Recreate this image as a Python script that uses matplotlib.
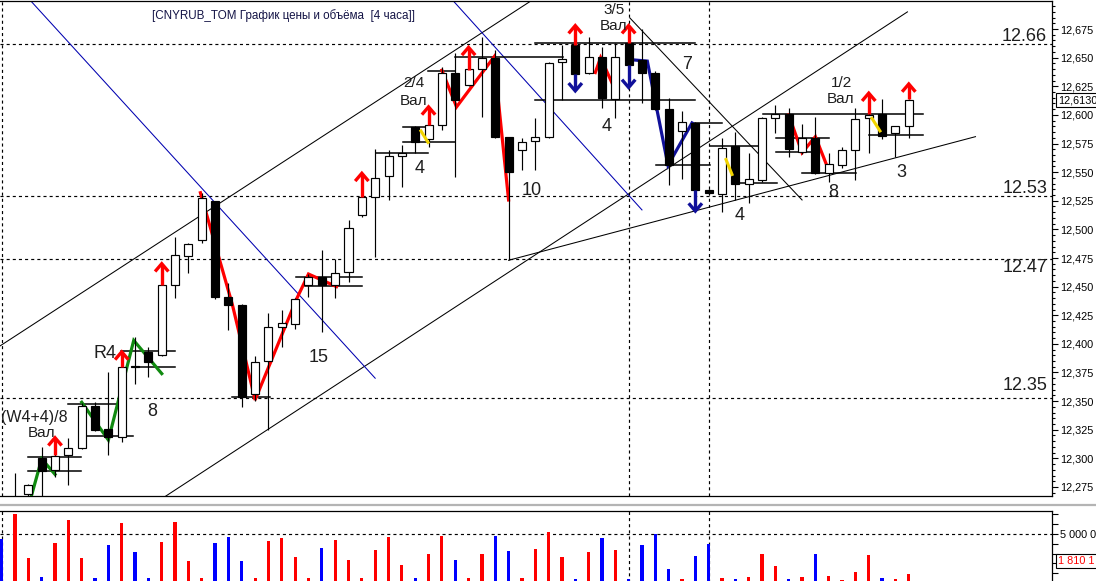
import matplotlib
matplotlib.use('Agg')
import matplotlib.pyplot as plt
import numpy as np
from matplotlib.lines import Line2D
from matplotlib.ticker import MultipleLocator, FuncFormatter, FixedLocator

plt.rcParams['font.family'] = ['Liberation Sans', 'DejaVu Sans']

# ---------------- data ----------------
opens = [12.258, 12.269, 12.300, 12.290, 12.303, 12.309, 12.346, 12.326, 12.319, 12.381,
         12.393, 12.390, 12.451, 12.477, 12.491, 12.525, 12.441, 12.434, 12.356, 12.385,
         12.415, 12.417, 12.451, 12.458, 12.451, 12.463, 12.513, 12.528, 12.547, 12.564,
         12.589, 12.579, 12.591, 12.637, 12.626, 12.640, 12.650, 12.581, 12.569, 12.577,
         12.581, 12.646, 12.661, 12.637, 12.651, 12.614, 12.663, 12.648, 12.637, 12.605,
         12.586, 12.593, 12.534, 12.531, 12.573, 12.540, 12.543, 12.597, 12.601, 12.568,
         12.580, 12.549, 12.556, 12.569, 12.597, 12.601, 12.584, 12.590]
highs = [12.287, 12.278, 12.310, 12.309, 12.318, 12.348, 12.349, 12.375, 12.381, 12.406,
         12.397, 12.452, 12.493, 12.488, 12.532, 12.525, 12.453, 12.435, 12.389, 12.427,
         12.430, 12.440, 12.461, 12.482, 12.474, 12.508, 12.534, 12.570, 12.569, 12.574,
         12.590, 12.592, 12.642, 12.654, 12.650, 12.668, 12.657, 12.581, 12.580, 12.597,
         12.646, 12.661, 12.662, 12.668, 12.659, 12.663, 12.664, 12.675, 12.638, 12.615,
         12.603, 12.594, 12.535, 12.580, 12.585, 12.567, 12.598, 12.609, 12.606, 12.592,
         12.598, 12.567, 12.572, 12.606, 12.617, 12.614, 12.590, 12.614]
lows = [12.255, 12.266, 12.266, 12.284, 12.277, 12.308, 12.324, 12.303, 12.314, 12.365,
        12.371, 12.389, 12.440, 12.462, 12.488, 12.439, 12.412, 12.345, 12.350, 12.325,
        12.397, 12.413, 12.441, 12.410, 12.440, 12.454, 12.511, 12.476, 12.526, 12.537,
        12.567, 12.572, 12.587, 12.546, 12.625, 12.598, 12.580, 12.473, 12.552, 12.552,
        12.580, 12.613, 12.635, 12.636, 12.606, 12.597, 12.643, 12.610, 12.604, 12.539,
        12.544, 12.530, 12.531, 12.515, 12.526, 12.523, 12.541, 12.584, 12.563, 12.566,
        12.548, 12.541, 12.554, 12.543, 12.567, 12.579, 12.563, 12.580]
closes = [12.264, 12.277, 12.289, 12.302, 12.309, 12.346, 12.325, 12.319, 12.380, 12.380,
          12.384, 12.451, 12.478, 12.487, 12.527, 12.441, 12.434, 12.354, 12.384, 12.415,
          12.418, 12.439, 12.458, 12.451, 12.462, 12.501, 12.528, 12.545, 12.564, 12.567,
          12.576, 12.591, 12.637, 12.613, 12.640, 12.650, 12.581, 12.550, 12.576, 12.581,
          12.645, 12.649, 12.636, 12.651, 12.615, 12.651, 12.644, 12.637, 12.605, 12.556,
          12.594, 12.534, 12.532, 12.571, 12.540, 12.544, 12.597, 12.601, 12.570, 12.580,
          12.549, 12.557, 12.569, 12.596, 12.600, 12.582, 12.590, 12.613]

# volume (millions), first value belongs to the bar before candle 0 (a falling bar)
volume_prev = 4.48
volumes = [7.05, 2.51, 0.61, 4.05, 6.41, 2.51, 0.51, 3.84, 6.09, 3.19,
           0.51, 4.15, 6.19, 2.22, 0.51, 4.05, 4.69, 2.22, 0.51, 4.27,
           4.59, 2.65, 0.51, 3.62, 4.37, 2.33, 0.51, 3.41, 4.69, 1.80,
           0.51, 2.98, 4.80, 2.33, 0.51, 2.98, 4.80, 3.30, 0.51, 3.51,
           5.18, 2.61, 0.44, 3.12, 4.64, 3.34, 0.37, 3.88, 4.97, 1.46,
           0.41, 2.72, 3.99, 0.52, 0.41, 0.62, 2.94, 1.74, 0.41, 0.62,
           3.01, 0.73, 0.34, 1.13, 2.84, 0.48, 0.41, 0.92]

levels = [12.662, 12.529, 12.474, 12.353]
level_labels = ['12.66', '12.53', '12.47', '12.35']
level_label_prices = [12.6689, 12.5361, 12.4663, 12.3632]

session_lines = [-1, 46, 52]

trend_black = [[(-1.2, 12.3976), (40.0, 12.7096)],
               [(11.3, 12.267), (66.9, 12.690)],
               [(46.1, 12.6846), (59.0, 12.5257)],
               [(37.0, 12.473), (72.0, 12.581)]]
trend_blue = [[(1.0, 12.7019), (27.0, 12.370)],
              [(32.9, 12.699), (47.0, 12.517)]]

range_lines = [(0.97, 4.95, 12.3009), (0.97, 4.95, 12.2892), (3.97, 7.65, 12.3475),
               (5.25, 8.85, 12.3195), (7.95, 11.99, 12.3938), (8.85, 11.99, 12.3798),
               (21.06, 26.01, 12.4584), (21.74, 26.01, 12.4506), (16.27, 19.12, 12.3536),
               (27.06, 30.96, 12.5664), (29.09, 30.96, 12.5897), (29.09, 32.98, 12.5760),
               (30.96, 32.98, 12.6383), (32.98, 41.08, 12.6508), (38.98, 50.97, 12.6625),
               (38.98, 50.97, 12.6130), (48.05, 52.1, 12.5562), (50.75, 53.0, 12.5929),
               (52.1, 55.7, 12.5728), (53.75, 57.1, 12.5405), (56.07, 68.07, 12.6005),
               (57.05, 61.02, 12.5801), (57.05, 60.1, 12.5673), (59.0, 63.04, 12.5490),
               (64.0, 68.07, 12.5824)]

zigzag_green = [[(1.2, 12.266), (2.0, 12.2995), (3.0, 12.286)],
                [(5.0, 12.349), (7.0, 12.316), (8.9, 12.403), (11.0, 12.374)]]
zigzag_red = [[(13.9, 12.532), (16.3, 12.434), (18.0, 12.351), (21.1, 12.439), (22.0, 12.461), (24.1, 12.450)],
              [(32.0, 12.639), (33.1, 12.607), (35.9, 12.6505), (37.0, 12.5257)],
              [(43.5, 12.637), (43.9, 12.650), (44.75, 12.628)],
              [(58.0, 12.600), (59.0, 12.567), (60.0, 12.581), (60.9, 12.5545)]]
zigzag_navy = [[(46.4, 12.648), (47.4, 12.647), (48.95, 12.556), (50.75, 12.593)]]
zigzag_yellow = [[(30.43, 12.586), (30.96, 12.576)],
                 [(53.3, 12.561), (53.75, 12.548)],
                 [(64.24, 12.597), (64.84, 12.586)]]

up_arrow_idx = [3, 8, 11, 26, 31, 34, 42, 46, 64, 67]
up_arrow_base = [12.303, 12.380, 12.451, 12.528, 12.591, 12.639, 12.661, 12.663, 12.601, 12.614]
up_arrow_tip = [12.318, 12.393, 12.470, 12.549, 12.607, 12.659, 12.678, 12.678, 12.619, 12.627]
down_arrow_idx = [42, 46, 51]
down_arrow_base = [12.636, 12.644, 12.534]
down_arrow_tip = [12.621, 12.624, 12.516]

big_labels = [('R4', 6.75, 12.3912), ('8', 10.27, 12.3405), ('15', 22.79, 12.3885),
              ('4', 30.36, 12.5536), ('10', 38.76, 12.5344), ('4', 44.38, 12.5903),
              ('7', 50.37, 12.6436), ('4', 54.35, 12.5117), ('8', 61.32, 12.5318),
              ('3', 66.42, 12.5501)]
small_labels = [('2/4', 29.91, 12.6278), ('Вал', 29.91, 12.6121),
                ('3/5', 44.9, 12.6916), ('Вал', 44.9, 12.6776),
                ('1/2', 61.92, 12.6278), ('Вал', 61.92, 12.6139),
                ('Вал', 2.02, 12.3222)]
wave_label = ('(W4+4)/8', -1.05, 12.3361)

title = '[CNYRUB_TOM График цены и объёма  [4 часа]]'
last_price_label = '12,6130'
vol_level = 5.0
vol_level_label = '5 000 0'
last_vol_label = '1 810 1'

# ---------------- figure ----------------
W, H = 1096, 581
fig = plt.figure(figsize=(W / 100, H / 100), dpi=100)
fig.patch.set_facecolor('white')

def fx(px):
    return px / W

def fy(py):
    return 1 - py / H

ax = fig.add_axes([0, fy(496), fx(1052), (496 - 1) / H])
axv = fig.add_axes([0, fy(583), fx(1052), (583 - 511) / H])

X0, DX = 15.0, 13.34
xlim = ((0 - X0) / DX, (1052 - X0) / DX)
for a in (ax, axv):
    a.set_xlim(*xlim)
    a.set_facecolor('white')
ax.set_ylim(12.2671, 12.6995)
axv.set_ylim(0, 7.35)

dash = (0, (2.6, 2.6))
# grid / level lines
for lv in levels:
    ax.axhline(lv, color='black', lw=0.85, ls=dash, zorder=1)
for s in session_lines:
    ax.axvline(s, color='black', lw=0.85, ls=dash, zorder=1)
    axv.axvline(s, color='black', lw=0.85, ls=dash, zorder=1)
axv.axhline(vol_level, color='black', lw=0.85, ls=dash, zorder=1)

# trend lines
for seg in trend_black:
    (x1, y1), (x2, y2) = seg
    ax.plot([x1, x2], [y1, y2], color='black', lw=0.75, zorder=2)
for seg in trend_blue:
    (x1, y1), (x2, y2) = seg
    ax.plot([x1, x2], [y1, y2], color='#0000b0', lw=0.75, zorder=2)

# range lines
for x1, x2, p in range_lines:
    ax.plot([x1, x2], [p, p], color='black', lw=1.1, zorder=2)

# zigzags
def draw_paths(paths, color, lw=2.3, z=2.5):
    for path in paths:
        xs = [p[0] for p in path]
        ys = [p[1] for p in path]
        ax.plot(xs, ys, color=color, lw=lw, zorder=z, solid_joinstyle='miter')

draw_paths(zigzag_green, '#108a10')
draw_paths(zigzag_red, '#ff0000')
draw_paths(zigzag_navy, '#10109a')
draw_paths(zigzag_yellow, '#f2d400', lw=2.2, z=5)

# candles
o = np.array(opens); h = np.array(highs); l = np.array(lows); c = np.array(closes)
idx = np.arange(len(o))
up = c >= o
ax.vlines(idx, l, h, color='black', lw=0.85, zorder=3)
bottoms = np.minimum(o, c)
heights = np.maximum(np.abs(c - o), 0.0007)
ax.bar(idx, heights, bottom=bottoms, width=0.6,
       color=np.where(up, 'white', 'black'), edgecolor='black', linewidth=0.85, zorder=4)

# arrows
def arrow(i, base, tip, color):
    d = np.sign(tip - base)
    hw, hh = 0.5, 0.0068
    ax.plot([i, i], [base, tip - d * 0.001], color=color, lw=2.4, zorder=6, solid_capstyle='butt')
    ax.plot([i - hw, i, i + hw], [tip - d * hh, tip, tip - d * hh], color=color, lw=2.4,
            zorder=6, solid_joinstyle='miter', solid_capstyle='butt')

for i, b, t in zip(up_arrow_idx, up_arrow_base, up_arrow_tip):
    arrow(i, b, t, '#ff0000')
for i, b, t in zip(down_arrow_idx, down_arrow_base, down_arrow_tip):
    arrow(i, b, t, '#10109a')

# labels
txt_color = '#1e1e1e'
for s, x, y in big_labels:
    ax.text(x, y, s, fontsize=13, color=txt_color, ha='center', va='center', zorder=7)
for s, x, y in small_labels:
    ax.text(x, y, s, fontsize=11, color=txt_color, ha='center', va='center', zorder=7)
ax.text(wave_label[1], wave_label[2], wave_label[0], fontsize=11.5, color=txt_color,
        ha='left', va='center', zorder=7)
xr = (1047 - X0) / DX
for s, p in zip(level_labels, level_label_prices):
    ax.text(xr, p, s, fontsize=13, color=txt_color, ha='right', va='center', zorder=7)

fig.text(fx(284), fy(16), title, ha='center', va='center', fontsize=8.35, color='#141446')

# price axis
ax.yaxis.tick_right()
ax.yaxis.set_major_locator(MultipleLocator(0.025))
ax.yaxis.set_minor_locator(MultipleLocator(0.005))
ax.yaxis.set_major_formatter(FuncFormatter(lambda v, pos: f'{v:.3f}'.replace('.', ',')))
ax.tick_params(axis='y', which='major', direction='out', length=4.3, width=0.8, pad=1.5,
               labelsize=7.8, colors='black')
ax.tick_params(axis='y', which='minor', direction='out', length=2.2, width=0.8)
ax.tick_params(axis='x', which='both', bottom=False, labelbottom=False)
ax.spines['left'].set_visible(False)
for sp in ('top', 'right', 'bottom'):
    ax.spines[sp].set_linewidth(0.9)
ax.text(1.0057, 12.613, last_price_label, transform=ax.get_yaxis_transform(), fontsize=7.8,
        ha='left', va='center', zorder=8,
        bbox=dict(boxstyle='square,pad=0.15', fc='white', ec='black', lw=0.8), clip_on=False)

# volume panel
vol_all = np.array([volume_prev] + volumes)
vidx = np.arange(-1, len(volumes))
vol_up = np.concatenate([[False], up])
axv.bar(vidx, vol_all, width=0.24, color=np.where(vol_up, '#ff0000', '#0000ff'), zorder=3)
axv.yaxis.tick_right()
axv.yaxis.set_major_locator(FixedLocator([1, 2, 3, 4, 5, 6, 7]))
axv.yaxis.set_major_formatter(FuncFormatter(lambda v, pos: vol_level_label if abs(v - vol_level) < 1e-6 else ''))
axv.tick_params(axis='y', direction='out', length=4.3, width=0.8, pad=1.5, labelsize=7.8)
axv.tick_params(axis='x', which='both', bottom=False, labelbottom=False)
axv.spines['left'].set_visible(False)
axv.spines['bottom'].set_visible(False)
for sp in ('top', 'right'):
    axv.spines[sp].set_linewidth(0.9)
axv.text(1.006, 2.25, last_vol_label, transform=axv.get_yaxis_transform(), fontsize=7.8,
         color='#ff0000', ha='left', va='center', zorder=8,
         bbox=dict(boxstyle='square,pad=0.2', fc='white', ec='black', lw=0.8), clip_on=False)

# separator between panels
fig.add_artist(Line2D([0, 1], [fy(504.5), fy(504.5)], color='#b4b4b4', lw=1.6,
                      transform=fig.transFigure))

fig.savefig('out.png', dpi=100)
